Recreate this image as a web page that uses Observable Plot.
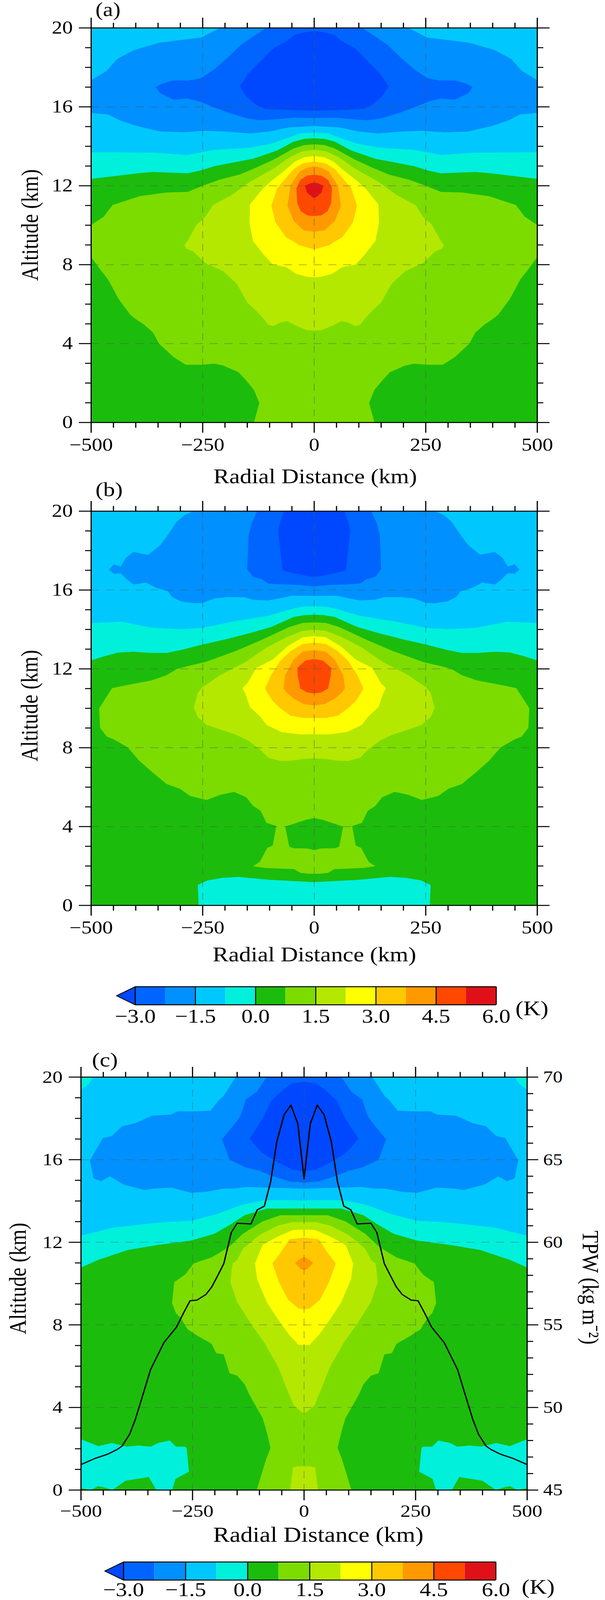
<!DOCTYPE html>
<html><head><meta charset="utf-8">
<style>html,body{margin:0;padding:0;background:#fff;overflow:hidden}
#root{position:relative;width:1550px;height:4781px;overflow:hidden;transform-origin:0 0}
#root svg{position:absolute;left:0;overflow:visible}</style>
<script src="https://cdn.jsdelivr.net/npm/d3@7"></script>
<script src="https://cdn.jsdelivr.net/npm/@observablehq/plot@0.6"></script>
</head><body><div id="root"></div>
<script>
// ---- palette (colour-bar order)
const cTip="#0048ff";
const binColors=["#0064ff","#0090ff","#00c8ff","#00f0dc","#1cbc0c","#7cdc00","#b4e800","#ffff00","#ffc800","#ff9900","#ff4800","#e01018"];
const [c1,c2,c3,c4,c5,c6,c7,c8,c9,c10,c11,c12]=binColors;
const levels=[-3,-1.5,0,1.5,3,4.5,6];
const binEdges=[-3,-2.25,-1.5,-0.75,0,0.75,1.5,2.25,3,3.75,4.5,5.25,6];

// ---- axis ticks
const xMajor=[-500,-250,0,250,500];
const xMinor=[-450,-400,-350,-300,-200,-150,-100,-50,50,100,150,200,300,350,400,450];
const yMajor=[0,4,8,12,16,20];
const yMinor=[1,2,3,5,6,7,9,10,11,13,14,15,17,18,19];
const tpwMajor=[45,50,55,60,65,70];
const tpwMinor=[46,47,48,49,51,52,53,54,56,57,58,59,61,62,63,64,66,67,68,69];

// ---- Panel (a): contour boundaries, radius>=0 half [r km, z km]
const a_c2=[[0,20],[211,20],[254,19.51],[298,19.39],[348,19.25],[405,18.87],[442,18.42],[465,17.83],[500,17.35],[500,15.69],[462,15.62],[435,15.31],[398,15.03],[345,14.75],[291,14.71],[244,14.79],[197,14.75],[144,14.65],[100,14.75],[56,14.96],[0,15.03]];
const a_c1=[[0,20],[108,20],[137,19.56],[164,19.15],[194,18.49],[224,17.9],[254,17.45],[281,17.34],[315,17.34],[341,17.18],[355,17],[345,16.69],[315,16.36],[284,16.42],[258,16.28],[224,15.97],[194,15.72],[150,15.41],[120,15.32],[80,15.38],[46,15.45],[0,15.43]];
const a_tip=[[0,19.84],[26,19.77],[46,19.63],[60,19.36],[93,18.94],[120,18.32],[147,17.7],[167,17.04],[152,16.52],[130,16.1],[110,15.9],[46,15.83],[0,15.81]];
const a_c4=[[0,14.69],[30,14.66],[60,14.41],[97,14.13],[147,13.92],[224,13.82],[284,13.56],[361,13.68],[500,13.7],[500,0],[0,0]];
const a_c5=[[0,14.41],[23,14.37],[46,14.24],[83,13.79],[137,13.37],[177,13.2],[224,12.99],[254,12.78],[284,12.63],[361,12.7],[392,12.64],[500,12.35],[500,0],[0,0]];
const a_c6=[[0,14.1],[23,14.06],[46,13.89],[90,13.34],[130,12.92],[167,12.57],[214,12.3],[251,11.99],[284,11.69],[331,11.66],[392,11.47],[452,11.02],[472,10.43],[500,10.01],[500,8.39],[479,7.74],[462,7.25],[439,6.28],[412,5.45],[398,5.21],[382,4.97],[361,4.55],[348,4],[315,3.31],[288,2.93],[251,2.93],[224,2.98],[204,2.89],[170,2.55],[154,2.17],[135,1.65],[123,0.99],[135,0],[0,0]];
const a_c7=[[0,13.82],[26,13.75],[53,13.47],[93,12.85],[147,12.16],[184,11.54],[227,11.02],[244,10.43],[264,10.01],[284,9.2],[291,8.98],[286,8.81],[271,8.67],[244,8.08],[204,7.67],[174,7.04],[160,6.49],[150,6.08],[130,5.66],[113,5.25],[103,4.95],[92,4.89],[76,5.07],[61,5.14],[40,4.9],[16,4.68],[0,4.66]];
const a_c8=[[0,13.51],[23,13.44],[43,13.23],[66,12.78],[97,12.23],[117,11.81],[144,11.05],[145,10.08],[137,9.2],[113,8.5],[93,8.01],[63,7.88],[40,7.53],[16,7.39],[0,7.36]];
const a_c9=[[0,13.23],[26,13.13],[46,12.85],[83,11.88],[96,10.98],[87,10.15],[63,9.39],[48,9.2],[33,8.98],[0,8.78]];
const a_c10=[[0,12.99],[16,12.92],[33,12.71],[53,12.02],[60,10.98],[46,10.22],[23,9.74],[0,9.67]];
const a_c11=[[0,12.56],[16,12.51],[31,12.3],[40,11.88],[38,11.12],[30,10.71],[16,10.5],[0,10.46]];
const a_c12=[[0,12.16],[9,12.12],[21,12],[16,11.65],[3,11.4],[0,11.4]];

// ---- Panel (b)
const b_c2=[[0,20],[271,20],[291,19.8],[308,19.47],[328,18.8],[345,18.28],[372,17.79],[405,17.93],[422,17.64],[434,17.19],[449,17.31],[460,17.03],[449,16.82],[434,16.85],[420,16.55],[405,16.27],[377,16.38],[355,16.12],[328,15.94],[318,15.64],[298,15.42],[271,15.33],[251,15.34],[224,15.57],[197,15.64],[157,15.64],[137,15.51],[103,15.47],[73,15.6],[50,15.71],[0,15.7]];
const b_c1=[[0,20],[128,20],[140,19.4],[147,18.79],[150,17.06],[137,16.67],[117,16.55],[103,16.33],[76,16.29],[36,16.26],[0,16.18]];
const b_tip=[[0,20],[68,20],[75,19.53],[81,19.04],[71,17],[46,16.85],[13,16.7],[0,16.67]];
const b_c4=[[0,15.18],[30,15.15],[56,15],[103,14.69],[184,14.39],[251,14.08],[298,14.02],[361,14.08],[432,14.39],[500,14.33],[500,0],[0,0]];
const b_c5=[[0,14.75],[23,14.72],[46,14.63],[97,14.12],[140,13.84],[197,13.51],[251,13.23],[298,12.96],[331,12.81],[368,12.81],[405,12.87],[439,12.83],[472,12.63],[500,12.43],[500,0],[0,0]];
const b_c6=[[0,14.36],[26,14.33],[56,14.12],[120,13.45],[177,12.9],[244,12.35],[284,12.14],[308,11.99],[331,11.68],[365,11.41],[422,11.17],[453,11.02],[460,10.78],[482,10],[480,9.01],[465,8.57],[449,8.42],[418,8.02],[392,7.34],[361,6.72],[331,6.16],[301,5.92],[278,5.55],[241,5.35],[211,5.61],[180,5.76],[152,5.48],[137,5.05],[120,4.8],[107,4.19],[85,4.03],[93,3.04],[105,2.92],[122,2.21],[137,1.99],[110,1.9],[45,1.84],[31,1.65],[13,1.61],[0,1.61]];
const b_hole=[[0,4.43],[19,4.34],[65,4],[56,2.98],[46,2.9],[16,2.89],[0,2.8]];
const b_c7=[[0,13.99],[26,13.93],[60,13.63],[107,13.08],[154,12.35],[211,11.68],[251,11.05],[261,10.78],[270,10.03],[261,9.56],[241,9.16],[214,8.95],[177,8.67],[150,8.39],[122,7.93],[103,7.49],[76,7.33],[53,7.34],[26,7.43],[0,7.46]];
const b_c8=[[0,13.66],[26,13.6],[60,13.14],[93,12.47],[130,12.05],[150,11.26],[161,11.02],[155,10.78],[144,10.06],[120,9.56],[107,9.16],[73,8.79],[30,8.67],[0,8.68]];
const b_c9=[[0,13.33],[26,13.26],[53,12.9],[76,12.41],[97,11.68],[110,11.02],[105,10.78],[93,10.37],[76,10],[53,9.63],[26,9.51],[0,9.51]];
const b_c10=[[0,12.96],[26,12.87],[46,12.47],[65,11.68],[69,11.02],[61,10.78],[46,10.49],[23,10.21],[0,10.15]];
const b_c11=[[0,12.5],[20,12.42],[38,12.05],[37,11.65],[31,11],[15,10.8],[0,10.76]];
const b_low=[[0,1.18],[100,1.3],[170,1.45],[205,1.4],[239,1.27],[261,1.04],[259,0],[0,0]];

// ---- Panel (c)
const c_corner=[[472,20],[483,19.65],[500,19.4],[500,20]];
const c_c2=[[0,20],[153,20],[180,19.11],[194,18.81],[210,18.37],[247,18.34],[284,18.34],[297,18.19],[341,18.13],[378,17.77],[408,17.62],[431,17.14],[451,17.05],[480,15.97],[472,15.1],[455,14.95],[435,15.19],[405,14.8],[358,14.53],[341,14.59],[297,14.65],[254,14.4],[220,14.44],[184,14.59],[157,14.6],[127,14.68],[86,14.65],[33,14.62],[0,14.59]];
const c_c1=[[0,20],[83,20],[93,19.71],[106,19.29],[130,18.93],[143,18.1],[153,17.8],[184,16.99],[175,16.48],[167,16],[133,15.64],[100,15.46],[76,15.25],[33,14.95],[0,14.89]];
const c_tip=[[0,19.77],[26,19.71],[46,19.41],[73,18.87],[93,17.98],[122,17.02],[96,16.36],[60,15.88],[26,15.52],[0,15.43]];
const c_c4=[[0,14.02],[53,14.05],[93,14.02],[140,13.81],[194,13.37],[251,13.05],[327,12.95],[428,12.71],[500,12.32],[500,0],[0,0]];
const c_c5=[[0,13.63],[83,13.63],[133,13.31],[167,12.83],[201,12.41],[254,12.08],[327,11.87],[394,11.63],[461,11.15],[500,10.78],[500,0],[0,0]];
const c_low=[[266,2.1],[287,2.1],[301,2.4],[327,2.28],[344,2.1],[371,2.16],[398,2.1],[431,2.28],[461,2.13],[500,2.46],[500,0.1],[478,0],[461,0.19],[443,0.1],[430,0],[400,0.45],[348,0.63],[331,0],[296,0],[288,0.54],[258,0.89],[263,2]];
const c_c6=[[0,13.31],[53,13.31],[93,13.01],[137,12.41],[170,11.75],[207,11.27],[247,10.98],[267,10.43],[291,10.07],[296,9.05],[287,8.56],[277,8.35],[261,7.78],[234,7.41],[207,7.08],[197,6.63],[180,6.57],[167,5.66],[150,5.54],[133,5.12],[123,4.63],[93,3.49],[86,3],[75,2.04],[85,1.5],[106,0],[0,0]];
const c_c7=[[0,12.98],[26,12.98],[60,12.8],[100,12.35],[137,11.69],[150,11.15],[160,10.98],[162,10.74],[165,10.07],[150,9.11],[120,8.08],[90,7.17],[58,5.96],[36,4.76],[23,4.09],[6,3.79],[0,3.7]];
const c_c7low=[[0,1.15],[15,1.15],[25,1.1],[31,0],[0,0]];
const c_c8=[[0,12.62],[26,12.59],[63,12.23],[93,11.87],[110,10.98],[105,10.19],[83,9.08],[60,8.32],[34,7.53],[13,7.04],[0,7.02]];
const c_c9=[[0,12.23],[33,12.14],[50,11.57],[71,10.98],[56,10.07],[36,9.23],[13,8.8],[0,8.76]];
const c_c10=[[0,11.28],[8,11.22],[20,11],[8,10.72],[0,10.65]];

// ---- TPW profile (kg m-2) vs radius, r>=0
const tpwR=[0,14,29.5,44.5,61,75,89,105,119,150,163,180,194,207,220,240,255.5,270.6,285.7,314,344,361,378,391,408,420,438,448,470,500];
const tpwV=[63.84,67.18,68.3,67.74,66.1,63.65,62.19,61.96,61.11,61.15,60.6,58.7,57.96,57.29,56.84,56.5,56.46,55.7,54.87,53.93,52.3,50.79,49.29,48.38,47.66,47.44,47.2,47.1,46.9,46.54];

// ---- helpers
const ring=p=>{const r=p.slice();r.push(p[0]);return r;};
const mirrored=h=>ring([...h,...h.slice().reverse().map(([r,z])=>[-r,z])]);
const poly=c=>({type:"Polygon",coordinates:[c]});
const sym=(h,fill)=>Plot.geo([poly(mirrored(h))],{fill});
const twin=(h,fill)=>[Plot.geo([poly(ring(h))],{fill}),Plot.geo([poly(ring(h.map(([r,z])=>[-r,z])))],{fill})];
const full=fill=>Plot.geo([poly([[-500,20],[500,20],[500,0],[-500,0],[-500,20]])],{fill});
const font='"Liberation Serif","Times New Roman",serif';
const root=document.getElementById("root");
// The window may be shorter than the 4781px chart; fit the full height into it.
const fit=Math.min(1,window.innerHeight/4781);
if(fit<1) root.style.transform=`scale(1,${fit})`;
function place(svg,top){svg.style.top=top+"px";root.appendChild(svg);}
function note(str,x,base,size,m,opt={}){ // absolute page coordinates -> frame-anchored text
  const rot=opt.rotate||0;
  const dx=x-m.left, dy=(rot===0?base-0.32*size:base)-m.pageTop;
  return Plot.text([str],{text:d=>d,frameAnchor:"top-left",dx,dy,fontSize:size,textAnchor:opt.anchor||"middle",lineAnchor:"middle",rotate:rot});
}
function panel(cfg){
  const {pageTop,H,y20,y0,xl,xr,fs,layers,extra=[],rightLabels=false}=cfg;
  const m={left:xl,pageTop:y20};
  const cmn={strokeWidth:3,label:null};
  const bare={...cmn,fill:"none"};
  return place(Plot.plot({
    width:1550,height:H,marginLeft:xl,marginRight:1550-xr,marginTop:y20-pageTop,marginBottom:pageTop+H-y0,
    x:{domain:[-500,500]},y:{domain:[0,20]},
    style:{fontFamily:font,background:"transparent"},
    marks:[
      ...layers,
      Plot.ruleX([-250,0,250],{stroke:"#555",strokeOpacity:0.5,strokeWidth:2,strokeDasharray:"21 17"}),
      Plot.ruleY([4,8,12,16],{stroke:"#555",strokeOpacity:0.5,strokeWidth:2,strokeDasharray:"21 17"}),
      ...extra,
      Plot.axisX(xMajor,{...cmn,anchor:"bottom",tickSize:31,tickPadding:cfg.xPad,fontSize:fs,tickFormat:d3.format("d")}),
      Plot.axisX(xMinor,{...bare,anchor:"bottom",tickSize:16}),
      Plot.axisX(xMajor,{...bare,anchor:"top",tickSize:31}),
      Plot.axisX(xMinor,{...bare,anchor:"top",tickSize:16}),
      Plot.axisY(yMajor,{...cmn,anchor:"left",tickSize:31,tickPadding:16,fontSize:fs,tickFormat:d3.format("d")}),
      Plot.axisY(yMinor,{...bare,anchor:"left",tickSize:15}),
      ...(rightLabels?[
        Plot.axisY(tpwMajor.map(t=>(t-45)*0.8),{...cmn,anchor:"right",tickSize:28,tickPadding:13,fontSize:50,tickFormat:z=>String(Math.round(z/0.8+45))}),
        Plot.axisY(tpwMinor.map(t=>(t-45)*0.8),{...bare,anchor:"right",tickSize:15})
      ]:[
        Plot.axisY(yMajor,{...bare,anchor:"right",tickSize:31}),
        Plot.axisY(yMinor,{...bare,anchor:"right",tickSize:15})
      ]),
      Plot.frame({stroke:"#000",strokeWidth:3}),
      ...cfg.notes(m)
    ]
  }),pageTop);
}
function colorbar(cfg){
  const {pageTop,H,yt,yb,xl,xr,kx,kbase,labPad}=cfg;
  const bins=binColors.map((fill,i)=>({x1:binEdges[i],x2:binEdges[i+1],fill}));
  const tipLen=-3-48/((xr-xl)/9);
  const m={left:xl,pageTop:yt};
  place(Plot.plot({
    width:1550,height:H,marginLeft:xl,marginRight:1550-xr,marginTop:yt-pageTop,marginBottom:pageTop+H-yb,
    x:{domain:[-3,6]},y:{domain:[0,1],axis:null},color:{type:"identity"},
    style:{fontFamily:font,background:"transparent"},
    marks:[
      Plot.rect(bins,{x1:"x1",x2:"x2",y1:()=>0,y2:()=>1,fill:"fill"}),
      Plot.geo([poly([[-3,1],[tipLen,0.5],[-3,0],[-3,1]])],{fill:cTip,stroke:"#000",strokeWidth:2.5}),
      Plot.ruleX(levels,{stroke:"#000",strokeWidth:2.5}),
      Plot.ruleY([0,1],{stroke:"#000",strokeWidth:3}),
      Plot.axisX(levels,{anchor:"bottom",tickSize:0,tickPadding:labPad,fontSize:58,label:null,tickFormat:d3.format(".1f")}),
      note("(K)",kx,kbase,61,m,{anchor:"start"})
    ]
  }),pageTop);
}

// ---- (a)
panel({pageTop:0,H:1460,y20:83,y0:1262,xl:233,xr:1376,fs:54,xPad:15,
  layers:[full(c3),sym(a_c2,c2),sym(a_c1,c1),sym(a_tip,cTip),sym(a_c4,c4),sym(a_c5,c5),sym(a_c6,c6),sym(a_c7,c7),sym(a_c8,c8),sym(a_c9,c9),sym(a_c10,c10),sym(a_c11,c11),sym(a_c12,c12)],
  notes:m=>[
    note("(a)",244,47,58,m,{anchor:"start"}),
    note("Radial Distance (km)",807,1443,61,m),
    note("Altitude (km)",77,672,61,m,{rotate:-90})
  ]});
// ---- (b)
panel({pageTop:1460,H:1440,y20:1527,y0:2705,xl:233,xr:1376,fs:54,xPad:15,
  layers:[full(c3),sym(b_c2,c2),sym(b_c1,c1),sym(b_tip,cTip),sym(b_c4,c4),sym(b_c5,c5),sym(b_c6,c6),sym(b_hole,c5),sym(b_low,c4),sym(b_c7,c7),sym(b_c8,c8),sym(b_c9,c9),sym(b_c10,c10),sym(b_c11,c11)],
  notes:m=>[
    note("(b)",244,1482,60,m,{anchor:"start"}),
    note("Radial Distance (km)",805,2872,61,m),
    note("Altitude (km)",76,2108,61,m,{rotate:-90})
  ]});
colorbar({pageTop:2900,H:180,yt:2948,yb:3002,xl:346,xr:1271,kx:1320,kbase:3033,labPad:12});
// ---- (c)
const tpwRows=[...tpwR.map((r,i)=>({r:-r,v:tpwV[i]})).reverse().slice(0,-1),...tpwR.map((r,i)=>({r,v:tpwV[i]}))];
panel({pageTop:3150,H:1500,y20:3218,y0:4452,xl:207,xr:1350,fs:52,xPad:12,rightLabels:true,
  layers:[full(c3),...twin(c_corner,c4),sym(c_c2,c2),sym(c_c1,c1),sym(c_tip,cTip),sym(c_c4,c4),sym(c_c5,c5),...twin(c_low,c4),sym(c_c6,c6),sym(c_c7low,c7),sym(c_c7,c7),sym(c_c8,c8),sym(c_c9,c9),sym(c_c10,c10)],
  extra:[Plot.line(tpwRows,{x:"r",y:d=>(d.v-45)*0.8,stroke:"#000",strokeWidth:3.5})],
  notes:m=>[
    note("(c)",235,3186,60,m,{anchor:"start"}),
    note("Radial Distance (km)",815,4606,63,m),
    note("Altitude (km)",46,3820,61,m,{rotate:-90}),
    note("TPW (kg m⁻²)",1512,3847,60,m,{rotate:90})
  ]});
colorbar({pageTop:4650,H:131,yt:4667,yb:4721,xl:316,xr:1270,kx:1336,kbase:4762,labPad:7});
</script></body></html>
